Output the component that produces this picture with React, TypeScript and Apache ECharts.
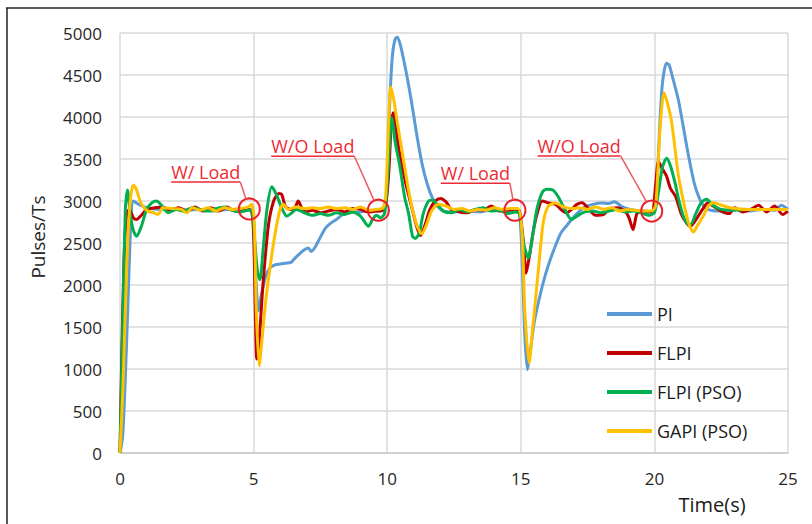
import React, { useEffect, useRef } from "react";
import * as echarts from "echarts";

// ---- data ----
const SERIES_NAMES = ["PI", "FLPI", "FLPI (PSO)", "GAPI (PSO)"];
const X_TICKS = [0, 5, 10, 15, 20, 25];
const Y_TICKS = [0, 500, 1000, 1500, 2000, 2500, 3000, 3500, 4000, 4500, 5000];

const PI: [number, number][] = [
  [0, 0], [0.1, 200], [0.2, 900], [0.3, 1800], [0.4, 2700], [0.5, 3000], [0.7, 2960], [1.0, 2920], [1.5, 2900], [2, 2910], [2.5, 2890], [3, 2900], [3.5, 2880], [4, 2900], [4.5, 2890], [4.9, 2900],
  [5.0, 2700], [5.1, 2000], [5.18, 1690], [5.3, 1900], [5.45, 2100], [5.6, 2200], [5.8, 2240], [6.0, 2250], [6.2, 2260], [6.4, 2270], [6.55, 2320], [6.75, 2380], [6.9, 2420], [7.05, 2440], [7.15, 2400], [7.3, 2450], [7.5, 2570], [7.7, 2680], [7.9, 2740], [8.1, 2780], [8.3, 2830], [8.6, 2860], [9.0, 2870], [9.3, 2890], [9.6, 2880], [9.9, 2900],
  [10.0, 3200], [10.1, 4200], [10.2, 4750], [10.3, 4930], [10.38, 4950], [10.5, 4850], [10.7, 4550], [10.9, 4200], [11.1, 3800], [11.3, 3450], [11.5, 3200], [11.7, 3030], [11.9, 2930], [12.1, 2880], [12.5, 2870], [13, 2880], [13.5, 2870], [14, 2900], [14.5, 2890], [14.8, 2890],
  [14.95, 2850], [15.05, 2300], [15.15, 1400], [15.25, 990], [15.35, 1200], [15.5, 1550], [15.7, 1850], [15.9, 2100], [16.1, 2300], [16.3, 2470], [16.5, 2620], [16.7, 2700], [16.9, 2780], [17.1, 2850], [17.4, 2930], [17.7, 2960], [18.0, 2975], [18.3, 2970], [18.5, 2990], [18.8, 2930], [19.1, 2900], [19.5, 2880], [19.8, 2870],
  [20.0, 2880], [20.1, 3200], [20.2, 3900], [20.3, 4400], [20.45, 4640], [20.55, 4620], [20.7, 4450], [20.9, 4200], [21.1, 3850], [21.3, 3500], [21.5, 3200], [21.7, 3020], [21.9, 2920], [22.1, 2890], [22.5, 2880], [23, 2900], [23.5, 2880], [24, 2900], [24.5, 2890], [24.75, 2950], [25, 2900],
];

const FLPI: [number, number][] = [
  [0, 0], [0.05, 900], [0.15, 2300], [0.25, 2850], [0.35, 2900], [0.5, 2800], [0.62, 2780], [0.8, 2830], [1.0, 2900], [1.3, 2920], [1.6, 2930], [1.9, 2890], [2.2, 2920], [2.5, 2880], [2.8, 2930], [3.1, 2880], [3.4, 2920], [3.7, 2880], [4.0, 2930], [4.3, 2880], [4.6, 2900], [4.9, 2890],
  [5.0, 2600], [5.07, 1600], [5.12, 1120], [5.2, 1300], [5.35, 2000], [5.55, 2700], [5.75, 3000], [5.95, 3090], [6.05, 3080], [6.2, 2930], [6.4, 2900], [6.55, 2920], [6.67, 3000], [6.8, 2920], [6.95, 2870], [7.2, 2890], [7.5, 2860], [7.8, 2880], [8.1, 2900], [8.4, 2870], [8.7, 2910], [9.0, 2900], [9.3, 2870], [9.6, 2880], [9.9, 2900],
  [10.05, 3300], [10.15, 3900], [10.23, 4050], [10.35, 3800], [10.5, 3500], [10.7, 3200], [10.9, 2950], [11.1, 2700], [11.25, 2590], [11.4, 2700], [11.6, 2900], [11.8, 3000], [12.0, 3030], [12.2, 2990], [12.4, 2900], [12.7, 2870], [13, 2860], [13.3, 2900], [13.6, 2890], [13.9, 2940], [14.2, 2880], [14.5, 2890], [14.8, 2900],
  [14.95, 2880], [15.1, 2500], [15.2, 2140], [15.3, 2300], [15.5, 2700], [15.7, 2950], [15.8, 3000], [16.0, 2980], [16.3, 2960], [16.5, 2900], [16.7, 2860], [16.9, 2900], [17.1, 2960], [17.3, 2980], [17.5, 2920], [17.8, 2830], [18.1, 2840], [18.3, 2900], [18.6, 2920], [18.9, 2880], [19.05, 2800], [19.2, 2660], [19.35, 2850], [19.6, 2880], [19.9, 2870],
  [20.05, 3200], [20.15, 3470], [20.3, 3380], [20.45, 3300], [20.6, 3150], [20.8, 3050], [21.0, 2850], [21.2, 2740], [21.35, 2700], [21.6, 2800], [21.8, 2900], [22.0, 2980], [22.2, 2940], [22.5, 2880], [22.8, 2850], [23.0, 2920], [23.3, 2870], [23.6, 2900], [23.9, 2950], [24.2, 2870], [24.5, 2940], [24.8, 2840], [25, 2880],
];

const FLPI_PSO: [number, number][] = [
  [0, 0], [0.1, 1500], [0.2, 2900], [0.28, 3130], [0.4, 2800], [0.5, 2650], [0.62, 2580], [0.8, 2700], [1.0, 2900], [1.2, 2980], [1.37, 3000], [1.55, 2950], [1.8, 2860], [2.1, 2900], [2.4, 2880], [2.7, 2920], [3.0, 2900], [3.3, 2880], [3.6, 2910], [3.9, 2930], [4.2, 2890], [4.5, 2870], [4.8, 2890], [4.95, 2880],
  [5.05, 2500], [5.15, 2150], [5.24, 2065], [5.35, 2400], [5.5, 2900], [5.68, 3170], [5.85, 3080], [6.05, 2920], [6.24, 2820], [6.4, 2850], [6.6, 2900], [6.9, 2860], [7.2, 2830], [7.5, 2850], [7.8, 2830], [8.1, 2860], [8.4, 2840], [8.7, 2870], [9.0, 2820], [9.3, 2700], [9.45, 2780], [9.6, 2830], [9.75, 2800], [9.9, 2850],
  [10.0, 3200], [10.1, 3750], [10.17, 3990], [10.3, 3700], [10.48, 3400], [10.65, 3050], [10.8, 2850], [10.95, 2580], [11.05, 2554], [11.2, 2620], [11.35, 2850], [11.55, 3000], [11.7, 3010], [11.9, 2950], [12.1, 2880], [12.4, 2860], [12.7, 2900], [13.0, 2870], [13.3, 2900], [13.6, 2920], [13.9, 2880], [14.2, 2890], [14.5, 2850], [14.8, 2870],
  [14.95, 2850], [15.1, 2500], [15.28, 2320], [15.45, 2600], [15.6, 2900], [15.8, 3100], [15.95, 3140], [16.2, 3130], [16.4, 3050], [16.6, 2930], [16.9, 2780], [17.1, 2820], [17.4, 2870], [17.7, 2880], [18.0, 2860], [18.3, 2880], [18.6, 2900], [18.9, 2870], [19.2, 2880], [19.5, 2860], [19.8, 2830],
  [20.0, 2860], [20.15, 3100], [20.3, 3400], [20.46, 3510], [20.6, 3420], [20.77, 3220], [20.9, 3030], [21.05, 2850], [21.2, 2740], [21.35, 2720], [21.55, 2850], [21.75, 2980], [21.95, 3020], [22.2, 2950], [22.5, 2900], [23, 2890], [23.5, 2900], [24, 2900], [24.5, 2900], [25, 2900],
];

const GAPI_PSO: [number, number][] = [
  [0, 0], [0.1, 700], [0.2, 1700], [0.3, 2600], [0.4, 3050], [0.5, 3190], [0.6, 3150], [0.75, 3000], [0.9, 2920], [1.05, 2880], [1.25, 2860], [1.43, 2840], [1.6, 2920], [2.0, 2910], [2.3, 2900], [2.5, 2860], [2.7, 2920], [3.0, 2890], [3.3, 2920], [3.6, 2880], [3.9, 2920], [4.2, 2900], [4.5, 2910], [4.8, 2930], [4.92, 2960],
  [5.02, 2800], [5.1, 1700], [5.21, 1040], [5.3, 1300], [5.45, 1800], [5.61, 2200], [5.8, 2600], [5.99, 2900], [6.11, 2960], [6.3, 2900], [6.6, 2930], [6.9, 2910], [7.2, 2920], [7.5, 2910], [7.8, 2930], [8.1, 2910], [8.4, 2920], [8.7, 2900], [9.0, 2930], [9.3, 2890], [9.6, 2900], [9.85, 2920],
  [9.95, 3100], [10.05, 3900], [10.13, 4360], [10.25, 4200], [10.35, 3990], [10.6, 3510], [10.85, 3040], [11.1, 2720], [11.29, 2610], [11.45, 2700], [11.66, 2880], [11.91, 2960], [12.2, 2940], [12.5, 2900], [12.8, 2910], [13.1, 2880], [13.4, 2900], [13.7, 2890], [14.0, 2920], [14.3, 2900], [14.6, 2910], [14.9, 2910],
  [15.05, 2600], [15.15, 1700], [15.31, 1070], [15.45, 1500], [15.66, 2190], [15.84, 2740], [16.03, 2940], [16.28, 2975], [16.6, 2930], [16.9, 2910], [17.2, 2920], [17.5, 2900], [17.8, 2930], [18.1, 2900], [18.4, 2920], [18.7, 2880], [19.0, 2900], [19.3, 2890], [19.6, 2880], [19.9, 2880],
  [20.05, 2950], [20.2, 3800], [20.36, 4290], [20.5, 4150], [20.65, 3930], [20.9, 3300], [21.15, 2900], [21.3, 2720], [21.46, 2630], [21.6, 2700], [21.83, 2820], [22.0, 2930], [22.2, 2980], [22.6, 2940], [23, 2910], [23.5, 2900], [24, 2900], [24.5, 2900], [25, 2900],
];

// annotation events
const EVENT_TIMES = [4.84, 9.67, 14.78, 19.9];
const EVENT_VALUES = [2905, 2890, 2890, 2880];
const EVENT_LABELS = ["W/ Load", "W/O Load", "W/ Load", "W/O Load"];

// ---- layout / style ----
const COLORS = ["#5B9BD5", "#C00000", "#00B050", "#FFC000"];
const FONT = "'Open Sans', 'Noto Sans', sans-serif";
const RED = "#EE2A35";
const LABEL_OFFSETS: [number, number][] = [[-9, -27], [-24, -54], [-5, -27], [-31, -55]];
const CIRCLE_R = 10.5;
const ANN_FONT_SIZE = 18;

function measure(text: string, size: number): number {
  const c = document.createElement("canvas").getContext("2d");
  if (!c) return text.length * size * 0.55;
  c.font = `${size}px 'Open Sans'`;
  return c.measureText(text).width;
}

export default function App() {
  const ref = useRef<HTMLDivElement>(null);
  useEffect(() => {
    if (!ref.current) return;
    const chart = echarts.init(ref.current, undefined, { renderer: "svg" });
    const allData = [PI, FLPI, FLPI_PSO, GAPI_PSO];
    chart.setOption({
      animation: false,
      backgroundColor: "#ffffff",
      grid: { left: 120, right: 24, top: 33, bottom: 71, containLabel: false },
      xAxis: {
        type: "value",
        min: X_TICKS[0],
        max: X_TICKS[X_TICKS.length - 1],
        interval: 5,
        axisLine: { show: true, lineStyle: { color: "#c8c8c8", width: 1.5 } },
        axisTick: { show: false },
        axisLabel: { color: "#262626", fontSize: 17, fontFamily: FONT, margin: 17, formatter: (v: number) => String(v) },
        splitLine: { show: true, lineStyle: { color: "#d9d9d9", width: 1.5 } },
      },
      yAxis: {
        type: "value",
        min: Y_TICKS[0],
        max: Y_TICKS[Y_TICKS.length - 1],
        interval: 500,
        axisLine: { show: false },
        axisTick: { show: false },
        axisLabel: { color: "#262626", fontSize: 17, fontFamily: FONT, margin: 18, formatter: (v: number) => String(v) },
        splitLine: { show: true, lineStyle: { color: "#d9d9d9", width: 1.5 } },
      },
      legend: {
        orient: "vertical",
        left: 602,
        top: 298,
        itemWidth: 45,
        itemHeight: 14,
        itemGap: 17,
        icon: "path://M0,0 L45,0 L45,4 L0,4 Z",
        textStyle: { color: "#1a1a1a", fontSize: 18, fontFamily: FONT, lineHeight: 22 },
        data: SERIES_NAMES,
      },
      series: SERIES_NAMES.map((name, i) => ({
        name,
        type: "line",
        data: allData[i],
        showSymbol: false,
        symbol: "none",
        smooth: 0.25,
        lineStyle: { color: COLORS[i], width: 3 },
        itemStyle: { color: COLORS[i] },
        z: 2 + i,
      })),
    });

    const graphics: any[] = [
      { type: "line", shape: { x1: 6, y1: 8, x2: 812, y2: 8 }, style: { stroke: "#222", lineWidth: 1.5 }, silent: true },
      { type: "line", shape: { x1: 7, y1: 8, x2: 7, y2: 524 }, style: { stroke: "#222", lineWidth: 1.5 }, silent: true },
      {
        type: "text", x: 38, y: 237, rotation: Math.PI / 2,
        style: { text: "Pulses/Ts", fontSize: 19, fontFamily: FONT, fill: "#262626", align: "center", verticalAlign: "middle" },
      },
      {
        type: "text", x: 712, y: 504,
        style: { text: "Time(s)", fontSize: 20, fontFamily: FONT, fill: "#1a1a1a", align: "center", verticalAlign: "middle" },
      },
    ];

    EVENT_TIMES.forEach((t, i) => {
      const p = chart.convertToPixel({ gridIndex: 0 }, [t, EVENT_VALUES[i]]) as number[];
      const cx = p[0], cy = p[1];
      const [dx, dy] = LABEL_OFFSETS[i];
      const ex = cx + dx, ey = cy + dy;
      const w = measure(EVENT_LABELS[i], ANN_FONT_SIZE);
      const vx = ex - cx, vy = ey - cy;
      const len = Math.sqrt(vx * vx + vy * vy);
      const lx = cx + (vx / len) * CIRCLE_R, ly = cy + (vy / len) * CIRCLE_R;
      graphics.push(
        { type: "circle", shape: { cx, cy, r: CIRCLE_R }, style: { fill: "none", stroke: "#E8202A", lineWidth: 2 }, z: 100 },
        { type: "line", shape: { x1: ex - w, y1: ey, x2: ex, y2: ey }, style: { stroke: RED, lineWidth: 1.5 }, z: 100 },
        { type: "line", shape: { x1: ex, y1: ey, x2: lx, y2: ly }, style: { stroke: "#F05A5F", lineWidth: 1.5 }, z: 100 },
        {
          type: "text", x: ex - w / 2, y: ey - 1, z: 100,
          style: { text: EVENT_LABELS[i], fontSize: ANN_FONT_SIZE, fontFamily: FONT, fill: RED, align: "center", verticalAlign: "bottom" },
        }
      );
    });
    chart.setOption({ graphic: graphics });
    return () => chart.dispose();
  }, []);
  return <div ref={ref} style={{ position: "fixed", left: 0, top: 0, width: 812, height: 524 }} />;
}
